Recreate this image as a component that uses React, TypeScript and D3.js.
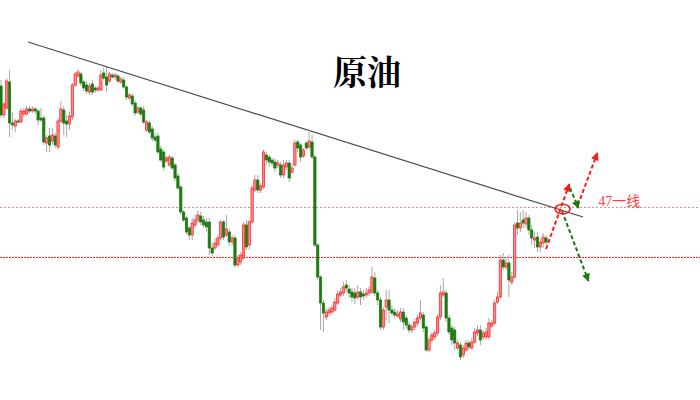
import React from "react";
import * as d3 from "d3";

// Crude oil candles (prices, USD)
const opens = [
  49.42,48.84,48.98,49.50,48.68,48.62,48.72,48.70,48.86,48.86,48.96,48.92,48.96,48.92,48.78,48.78,48.28,48.42,48.32,48.42,48.20,48.72,48.94,48.72,48.66,48.80,49.44,49.62,49.66,49.50,49.44,49.30,49.46,49.38,49.34,
  49.34,49.68,49.60,49.52,49.64,49.60,49.62,49.50,49.54,49.40,49.18,49.22,49.08,48.90,48.98,48.94,48.54,48.68,48.56,48.40,48.42,48.16,48.10,47.92,47.84,47.98,47.84,47.62,47.40,46.90,46.78,46.58,46.44,
  46.64,46.74,46.82,46.74,46.70,46.70,46.18,46.18,46.24,46.38,46.70,46.44,46.50,46.30,46.38,45.84,45.90,45.98,46.64,46.24,46.70,47.34,47.54,47.34,47.40,48.04,48.00,47.94,47.90,47.84,47.84,47.64,47.80,
  47.88,47.70,47.84,48.30,48.24,48.02,48.28,48.20,48.30,48.00,46.24,45.60,45.08,44.80,44.88,44.90,44.94,45.08,45.24,45.28,45.44,45.36,45.30,45.28,45.20,45.30,45.26,45.24,45.28,45.30,45.58,45.28,45.14,44.60,45.00,45.14,
  44.94,44.90,44.82,44.76,44.90,44.78,44.64,44.54,44.60,44.68,44.78,44.84,44.60,44.14,44.34,44.40,44.48,44.80,45.24,45.28,44.78,44.58,44.54,44.18,44.24,44.04,44.14,44.28,44.18,44.30,44.48,
  44.54,44.40,44.40,44.40,44.62,44.68,45.10,45.20,45.94,45.80,45.88,45.50,45.60,46.68,46.58,46.74,46.66,46.78,46.54,46.34,46.40,46.20,46.28,46.38,
];
const highs = [
  49.54,49.10,49.58,49.74,48.90,48.76,48.76,48.98,48.98,49.02,49.02,49.02,49.00,48.96,48.98,48.84,48.44,48.58,48.58,48.48,48.78,49.12,49.02,48.84,48.90,49.48,49.70,49.76,49.70,49.54,49.52,49.48,49.54,49.42,49.42,
  49.74,49.80,49.80,49.70,49.68,49.68,49.66,49.60,49.60,49.44,49.28,49.26,49.14,49.02,49.02,49.02,48.74,48.72,48.62,48.48,48.48,48.22,48.14,48.02,48.04,48.02,47.88,47.68,47.44,46.94,46.82,46.62,46.78,
  46.84,46.94,46.90,46.82,46.78,46.78,46.28,46.38,46.44,46.74,46.74,46.84,46.58,46.44,46.44,46.04,46.10,46.70,46.74,46.74,47.44,47.64,47.64,47.48,48.14,48.10,48.04,47.98,47.98,47.94,47.90,47.94,47.94,
  47.94,47.88,48.34,48.34,48.28,48.18,48.32,48.50,48.44,48.04,46.28,45.64,45.14,44.98,45.00,45.04,45.18,45.34,45.38,45.50,45.54,45.44,45.38,45.38,45.44,45.38,45.34,45.38,45.42,45.80,45.70,45.34,45.20,45.00,45.34,45.34,
  45.04,44.98,44.94,44.98,44.98,44.84,44.70,44.66,44.78,44.84,45.14,44.90,44.64,44.40,44.50,44.54,44.86,45.44,45.58,45.34,44.84,44.64,44.60,44.34,44.30,44.24,44.34,44.34,44.38,44.58,44.64,
  44.64,44.54,44.58,44.78,44.74,45.14,45.30,46.04,46.08,45.98,46.04,45.70,46.70,46.94,46.90,46.94,46.90,46.84,46.64,46.50,46.50,46.38,46.48,46.44,
];
const lows = [
  48.78,48.78,48.94,48.40,48.54,48.50,48.66,48.68,48.80,48.82,48.88,48.88,48.86,48.64,48.70,48.24,48.10,48.10,48.26,48.18,48.14,48.68,48.44,48.40,48.54,48.74,49.40,49.58,49.42,49.32,49.26,49.24,49.24,49.28,49.30,
  49.32,49.54,49.30,49.48,49.56,49.54,49.48,49.46,49.36,49.14,49.14,49.02,48.82,48.86,48.82,48.66,48.50,48.46,48.32,48.30,48.06,47.90,47.74,47.88,47.80,47.74,47.52,47.34,46.86,46.70,46.46,46.34,46.34,
  46.58,46.68,46.64,46.58,46.50,46.04,46.02,46.14,46.20,46.34,46.34,46.40,46.22,46.22,45.78,45.80,45.84,45.94,46.14,46.14,46.66,47.30,47.28,47.28,47.36,47.84,47.80,47.82,47.70,47.78,47.58,47.58,47.74,
  47.50,47.66,47.80,48.10,47.90,47.98,48.14,48.16,47.96,46.20,45.54,44.54,44.50,44.74,44.82,44.84,44.90,45.04,45.20,45.22,45.30,45.18,45.10,45.06,45.14,45.04,45.14,45.18,45.22,45.26,45.22,45.04,44.54,44.54,44.74,44.68,
  44.82,44.78,44.78,44.70,44.54,44.58,44.48,44.48,44.54,44.62,44.74,44.50,44.10,44.10,44.28,44.34,44.42,44.74,45.20,44.70,44.44,44.24,44.14,44.14,43.94,43.98,44.10,44.14,44.14,44.26,44.42,
  44.24,44.34,44.34,44.34,44.58,44.64,45.06,45.16,45.74,45.74,45.20,45.44,45.56,46.44,46.50,46.58,46.58,46.44,46.24,46.18,46.10,46.10,46.18,46.24,
];
const closes = [
  48.84,49.06,49.52,48.68,48.64,48.72,48.70,48.92,48.92,48.96,48.92,48.96,48.92,48.74,48.74,48.30,48.38,48.24,48.44,48.24,48.72,48.96,48.68,48.66,48.82,49.44,49.66,49.70,49.48,49.38,49.32,49.42,49.30,49.34,49.38,
  49.64,49.58,49.44,49.66,49.60,49.64,49.52,49.56,49.40,49.20,49.24,49.06,48.88,48.98,48.86,48.70,48.70,48.50,48.38,48.34,48.10,47.94,47.80,47.98,48.00,47.78,47.58,47.38,46.90,46.74,46.50,46.44,46.68,
  46.74,46.84,46.70,46.64,46.60,46.18,46.08,46.28,46.38,46.70,46.40,46.56,46.30,46.38,45.84,45.98,46.04,46.64,46.20,46.70,47.38,47.54,47.34,47.42,48.10,47.94,47.90,47.88,47.78,47.88,47.64,47.84,47.88,
  47.58,47.78,48.28,48.18,48.00,48.14,48.18,48.32,48.00,46.24,45.60,45.08,44.88,44.90,44.94,44.98,45.10,45.26,45.30,45.40,45.38,45.28,45.20,45.18,45.30,45.20,45.22,45.28,45.34,45.60,45.28,45.14,44.60,44.94,45.14,44.94,
  44.88,44.84,44.86,44.90,44.70,44.64,44.54,44.60,44.70,44.78,44.88,44.58,44.14,44.34,44.44,44.48,44.80,45.28,45.30,44.78,44.50,44.34,44.28,44.28,44.00,44.18,44.28,44.20,44.30,44.50,44.54,
  44.34,44.48,44.50,44.68,44.68,45.08,45.20,45.94,45.80,45.88,45.54,45.60,46.64,46.58,46.68,46.68,46.78,46.54,46.38,46.38,46.20,46.30,46.40,46.30,
];

// Annotations (candle index, price)
const levels = [47.0, 46.0];
const trendStart = [9.5, 50.30];
const trendEnd = [204, 46.8];
const circleAt = [196.8, 46.96];
const redArrows = [
  [[191, 46.16], [199.2, 47.46]],
  [[202.2, 47.04], [209.0, 48.08]],
];
const greenArrows = [
  [[199.4, 47.38], [202.4, 46.98]],
  [[196.6, 46.92], [205.9, 45.52]],
];
const levelLabel = "47一线";
const labelAt = [209.3, 47.0];
const title = "原油";

const W = 700;
const H = 400;
const RED = "#ff1a1a";
const GREEN = "#1d7a10";

export default function App() {
  const n = opens.length;
  const x = d3.scaleLinear().domain([0, n - 1]).range([1, 546]);
  const y = d3.scaleLinear().domain([43.94, 49.94]).range([360, 60]);
  const bw = 2.3;

  return (
    <svg
      width={W}
      height={H}
      style={{ position: "absolute", left: 0, top: 0, background: "#fff" }}
    >
      <defs>
        <marker id="ahR" viewBox="0 0 10 10" refX="9" refY="5" markerWidth="9" markerHeight="8" orient="auto" markerUnits="userSpaceOnUse">
          <path d="M0,0 L10,5 L0,10 z" fill={RED} />
        </marker>
        <marker id="ahG" viewBox="0 0 10 10" refX="9" refY="5" markerWidth="9" markerHeight="8" orient="auto" markerUnits="userSpaceOnUse">
          <path d="M0,0 L10,5 L0,10 z" fill={GREEN} />
        </marker>
      </defs>

      {levels.map((lv, i) => (
        <line
          key={"lv" + i}
          x1={0}
          x2={W}
          y1={Math.round(y(lv)) + 0.5}
          y2={Math.round(y(lv)) + 0.5}
          stroke={i === 0 ? "#d98a8a" : "#ff2020"}
          strokeWidth={1}
          strokeDasharray={i === 0 ? "2,2" : "2,1"}
        />
      ))}

      <g>
        {opens.map((o, i) => {
          const c = closes[i];
          const up = c > o;
          const cx = x(i);
          const top = y(Math.max(o, c));
          const bot = y(Math.min(o, c));
          const h = Math.max(1, bot - top);
          return (
            <g key={i}>
              <line x1={cx} x2={cx} y1={y(highs[i])} y2={y(lows[i])} stroke="#a8a8a8" strokeWidth={1} />
              <rect
                x={cx - bw / 2}
                y={top}
                width={bw}
                height={h}
                fill={up ? "#ff8c8c" : GREEN}
                stroke={up ? RED : GREEN}
                strokeWidth={0.7}
              />
            </g>
          );
        })}
      </g>

      <line
        x1={x(trendStart[0])}
        y1={y(trendStart[1])}
        x2={x(trendEnd[0])}
        y2={y(trendEnd[1])}
        stroke="#4a4a4a"
        strokeWidth={1.2}
      />

      {redArrows.map((a, i) => (
        <line key={"ra" + i} x1={x(a[0][0])} y1={y(a[0][1])} x2={x(a[1][0])} y2={y(a[1][1])}
          stroke={RED} strokeWidth={2} strokeDasharray="4,2.5" markerEnd="url(#ahR)" />
      ))}
      {greenArrows.map((a, i) => (
        <line key={"ga" + i} x1={x(a[0][0])} y1={y(a[0][1])} x2={x(a[1][0])} y2={y(a[1][1])}
          stroke={GREEN} strokeWidth={2} strokeDasharray="4,2.5" markerEnd="url(#ahG)" />
      ))}

      <ellipse cx={x(circleAt[0])} cy={y(circleAt[1])} rx={7.5} ry={4.8} fill="none" stroke={RED} strokeWidth={1.6} />

      <text x={x(labelAt[0])} y={y(labelAt[1]) - 1} fill="#ff4040" fontSize={14}
        fontFamily="'Liberation Serif', 'DejaVu Serif', 'Noto Sans CJK SC', serif">
        {levelLabel}
      </text>

      <text x={367} y={85} textAnchor="middle" fontSize={34} fontWeight="bold" fill="#000"
        fontFamily="'Noto Serif CJK SC', 'Noto Sans CJK SC', serif">
        {title}
      </text>
    </svg>
  );
}
